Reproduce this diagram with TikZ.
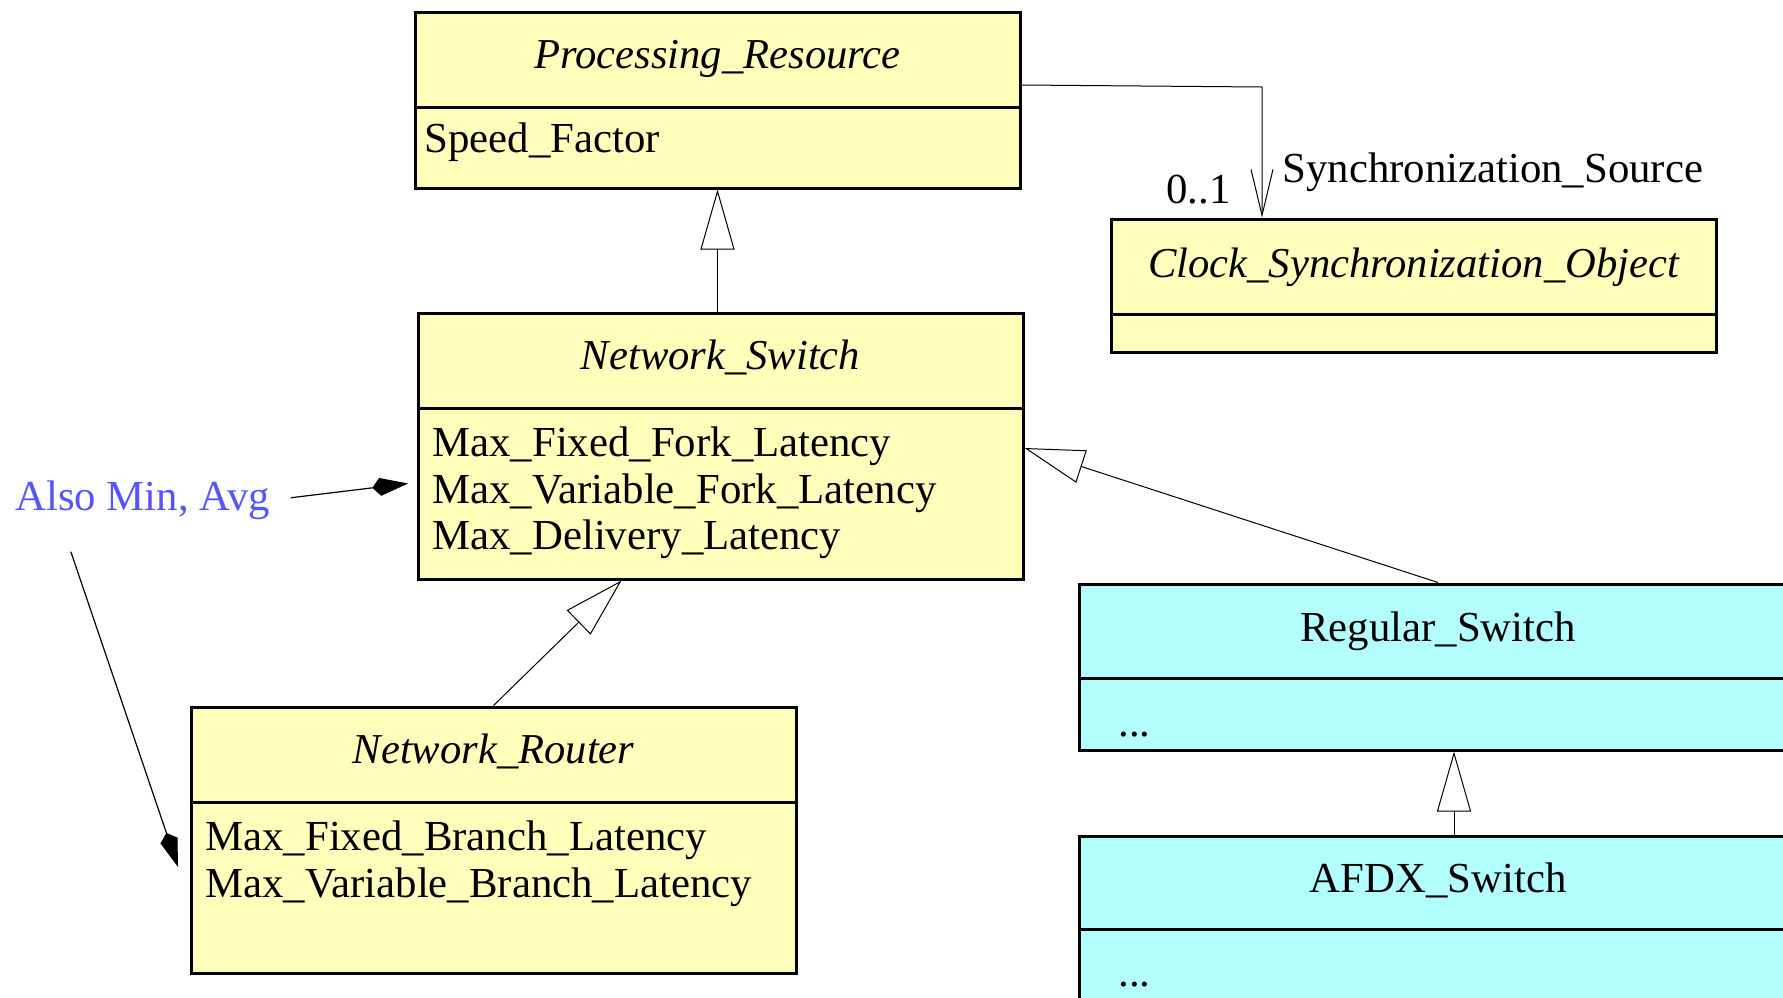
\documentclass[tikz,border=0pt]{standalone}
\usepackage{fontspec}
\setmainfont{Liberation Serif}
\usetikzlibrary{arrows.meta,fit}
\definecolor{classyellow}{HTML}{FFFFBB}
\definecolor{classcyan}{HTML}{B3FFFF}
\definecolor{noteblue}{HTML}{5555FF}
\tikzset{
  classbox/.style={draw, line width=1.5pt, inner sep=0pt},
  ybox/.style={classbox, fill=classyellow},
  cbox/.style={classbox, fill=classcyan},
  divider/.style={line width=1.5pt},
  lbl/.style={inner sep=0pt, font=\fontsize{21.4}{23.25}\selectfont},
  attr/.style={lbl, anchor=base west},
  ctitle/.style={lbl, anchor=base},
  atitle/.style={inner sep=0pt, anchor=base, font=\fontsize{21.3}{23.25}\selectfont\itshape},
  inherit/.style={line width=0.5pt, -{Triangle[open, length=30pt, width=17pt, line width=0.5pt]}},
  assoc/.style={line width=0.5pt, -{Straight Barb[length=23pt, width=11pt, line width=0.5pt]}},
  notelink/.style={line width=0.6pt, -{Kite[length=18pt, width=9pt, inset=4pt]}},
}
\begin{document}
\begin{tikzpicture}[x=0.5pt, y=-0.5pt]
\useasboundingbox (0,0) rectangle (1783,997);
\clip (0,0) rectangle (1783,997);

% class boxes
\node[ybox, fit={(415,12) (1020,188)}] (pr) {};
\draw[divider] (pr.west |- 0,107) -- (pr.east |- 0,107);
\node[atitle] (prT) at (717.5,68) {Processing\_Resource};
\node[attr] (prA) at (424,152) {Speed\_Factor};

\node[ybox, fit={(1111,219) (1716,352)}] (cso) {};
\draw[divider] (cso.west |- 0,314) -- (cso.east |- 0,314);
\node[atitle] (csoT) at (1413.5,277) {Clock\_Synchronization\_Object};

\node[ybox, fit={(418,313) (1023,579)}] (ns) {};
\draw[divider] (ns.west |- 0,408) -- (ns.east |- 0,408);
\node[atitle] (nsT) at (720.5,369) {Network\_Switch};
\node[attr] (nsA1) at (432,456.5) {Max\_Fixed\_Fork\_Latency};
\node[attr] (nsA2) at (432,503) {Max\_Variable\_Fork\_Latency};
\node[attr] (nsA3) at (432,549.5) {Max\_Delivery\_Latency};

\node[ybox, fit={(191,707) (796,973)}] (nr) {};
\draw[divider] (nr.west |- 0,802) -- (nr.east |- 0,802);
\node[atitle] (nrT) at (493.5,763) {Network\_Router};
\node[attr] (nrA1) at (205,850) {Max\_Fixed\_Branch\_Latency};
\node[attr] (nrA2) at (205,897) {Max\_Variable\_Branch\_Latency};

\node[cbox, fit={(1079,584) (1797,750)}] (rs) {};
\draw[divider] (rs.west |- 0,678) -- (rs.east |- 0,678);
\node[ctitle] (rsT) at (1438,641) {Regular\_Switch};
\node[attr] (rsA) at (1118,736) {...};

\node[cbox, fit={(1079,836) (1797,1060)}] (af) {};
\draw[divider] (af.west |- 0,929) -- (af.east |- 0,929);
\node[ctitle] (afT) at (1438,892) {AFDX\_Switch};
\node[attr] (afA) at (1118,986) {...};

% association Processing_Resource -> Clock_Synchronization_Object
\coordinate (bend) at (1262,87);
\draw[assoc] ([yshift=7.5pt]pr.east) -- (bend) -- (bend |- cso.north);
\node[lbl, anchor=base east] (mult) at (1231,203) {0..1};
\node[lbl, anchor=base west] (role) at (1282,182) {Synchronization\_Source};

% generalizations
\draw[inherit] (ns.north -| pr.south) -- (pr.south);
\draw[inherit] (nr.north) -- ([xshift=102.5pt]ns.south west);
\draw[inherit] (rs.north) -- ([yshift=-1pt]ns.east);
\draw[inherit] ([xshift=8pt]af.north) -- ([xshift=8pt]rs.south);

% note
\node[lbl, anchor=base west, text=noteblue] (note) at (15,510) {Also Min, Avg};
\coordinate (tipA) at (408,483.5);
\coordinate (tipB) at (178,867);
\draw[notelink] ([xshift=10pt, yshift=1pt]note.east) -- (tipA);
\draw[notelink] ([xshift=-36pt, yshift=-16pt]note.south) -- (tipB);
\end{tikzpicture}
\end{document}
